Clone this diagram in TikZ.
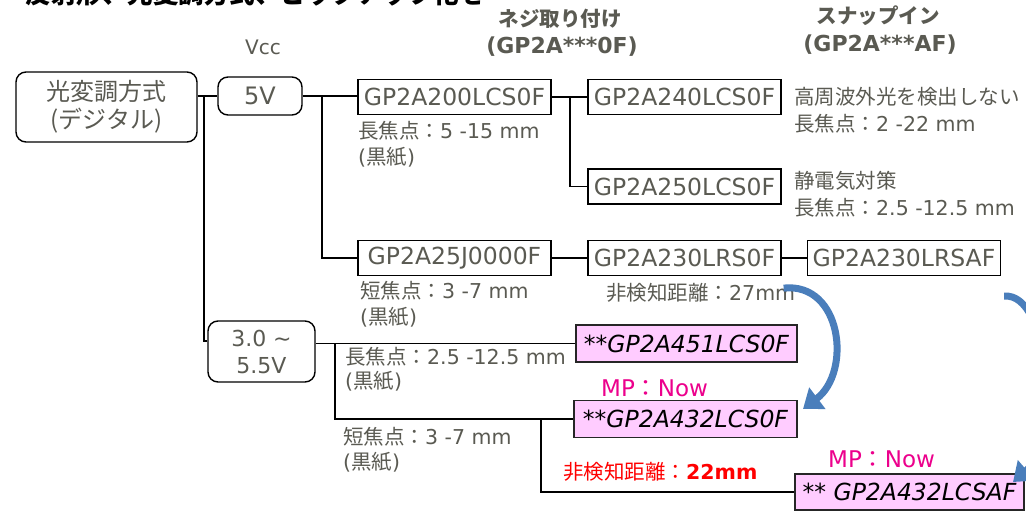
\documentclass[tikz,border=0pt]{standalone}
\usepackage{fontspec}
\setmainfont{DejaVu Sans}
\newfontfamily\jpf{Noto Sans CJK JP}
\usetikzlibrary{arrows.meta}
\definecolor{txtgrey}{RGB}{90,90,82}
\definecolor{pinkfill}{RGB}{255,204,255}
\definecolor{arrowblue}{RGB}{74,126,187}
\newcommand{\jp}[1]{{\jpf #1}}
\tikzset{
  sq/.style={draw=black, line width=1.2pt, fill=white, minimum width=193pt, minimum height=35pt, inner sep=0pt, text=txtgrey, font=\fontsize{23.5}{26}\selectfont},
  rb/.style={draw=black, line width=1.4pt, rounded corners=10pt, text=txtgrey, align=center, inner sep=0pt},
  pk/.style={draw=black!85, line width=1.2pt, fill=pinkfill, minimum height=37pt, inner sep=0pt, text=black, font=\itshape\fontsize{23.5}{26}\selectfont},
  lbl/.style={anchor=west, inner sep=0pt, text=txtgrey, font=\fontsize{20.5}{24}\selectfont},
  hdr/.style={inner sep=0pt, text=txtgrey, font=\bfseries\fontsize{22}{24}\selectfont},
  hdrjp/.style={inner sep=0pt, text=txtgrey, font=\jpf\bfseries\fontsize{20.5}{22}\selectfont},
  conn/.style={line width=1.6pt, draw=black},
  bigarrow/.style={draw=arrowblue, line width=7pt, -{Triangle[width=26pt,length=18pt]}},
}
\begin{document}
\begin{tikzpicture}[x=1pt,y=-1pt]
\useasboundingbox (0,0) rectangle (1026,512);
% clipped title
\node[anchor=south west, inner sep=0pt, font=\jpf\bfseries\fontsize{25.5}{28}\selectfont] (title) at (0,6) {－反射形、光変調方式、ピックアップ化を};
% headers
\node[inner sep=0pt, text=txtgrey, font=\fontsize{20}{22}\selectfont] (vcc) at (263,47) {Vcc};
\node[hdrjp] (h1a) at (560,19) {ネジ取り付け};
\node[hdr] (h1b) at (562,47) {(GP2A***0F)};
\node[hdrjp] (h2a) at (878,16) {スナップイン};
\node[hdr] (h2b) at (880,45) {(GP2A***AF)};
% rounded boxes
\node[rb, minimum width=181pt, minimum height=70pt, font=\jpf\fontsize{24}{28}\selectfont] (mod) at (106.5,107) {光変調方式\\(デジタル)};
\node[rb, minimum width=84pt, minimum height=38pt, font=\fontsize{24}{28}\selectfont] (v5) at (260,96) {5V};
\node[rb, minimum width=107pt, minimum height=61pt, font=\fontsize{22}{27}\selectfont] (v35) at (261.5,351.5) {3.0 \textasciitilde\\5.5V};
% square boxes
\node[sq] (g200) at (454.5,97) {GP2A200LCS0F};
\node[sq] (g240) at (684.5,97) {GP2A240LCS0F};
\node[sq] (g250) at (684.5,186.5) {GP2A250LCS0F};
\node[sq] (g25j) at (454.5,258) {GP2A25J0000F};
\node[sq] (g230) at (684.5,258) {GP2A230LRS0F};
\node[sq] (g230af) at (904,258) {GP2A230LRSAF};
% pink boxes
\node[pk, minimum width=221pt] (p451) at (686.5,343.5) {**GP2A451LCS0F};
\node[pk, minimum width=223pt] (p432) at (685.5,419) {**GP2A432LCS0F};
\node[pk, minimum width=229pt, minimum height=36pt] (p432af) at (909.5,492) {** GP2A432LCSAF};
% labels
\node[lbl] (l1) at (358,131) {\jp{長焦点：}5 -15 mm};
\node[lbl] (l2) at (358,157) {(\jp{黒紙})};
\node[lbl] (l3) at (794,97) {\jp{高周波外光を検出しない}};
\node[lbl] (l4) at (794,124) {\jp{長焦点：}2 -22 mm};
\node[lbl] (l5) at (794,181) {\jp{静電気対策}};
\node[lbl] (l6) at (794,208) {\jp{長焦点：}2.5 -12.5 mm};
\node[lbl] (l7) at (360,291) {\jp{短焦点：}3 -7 mm};
\node[lbl] (l8) at (360,317) {(\jp{黒紙})};
\node[lbl] (l9) at (606,293) {\jp{非検知距離：}27mm};
\node[lbl] (l10) at (345,357) {\jp{長焦点：}2.5 -12.5 mm};
\node[lbl] (l11) at (345,381) {(\jp{黒紙})};
\node[lbl] (l12) at (343,437) {\jp{短焦点：}3 -7 mm};
\node[lbl] (l13) at (343,462) {(\jp{黒紙})};
\node[lbl, text=red] (l14) at (563,472) {\jp{非検知距離：}\textbf{22mm}};
\node[lbl, text=magenta, font=\fontsize{23}{26}\selectfont] (mp1) at (601,388) {MP\jp{：}Now};
\node[lbl, text=magenta, font=\fontsize{23}{26}\selectfont] (mp2) at (828,459) {MP\jp{：}Now};
% junction coordinates
\coordinate (j1) at (204,96);
\coordinate (j1b) at (204,341);
\coordinate (j2) at (322,96);
\coordinate (j3) at (570,97);
\coordinate (j4) at (335,343.5);
\coordinate (j5) at (541,419);
\coordinate (t1) at (803,409);
\coordinate (t2) at (1013,482);
% connectors
\draw[conn] (mod.east |- v5.west) -- (v5.west);
\draw[conn] (j1) -- (j1b) -- (j1b -| v35.west);
\draw[conn] (v5.east) -- (v5.east -| g200.west);
\draw[conn] (j2) |- (g25j.west);
\draw[conn] (g200.east) -- (g240.west);
\draw[conn] (j3) |- (g250.west);
\draw[conn] (g25j.east) -- (g230.west);
\draw[conn] (g230.east) -- (g230af.west);
\draw[conn] (v35.east |- p451.west) -- (p451.west);
\draw[conn] (j4) |- (p432.west);
\draw[conn] (j5) |- (p432af.west);
% curved arrows
\draw[bigarrow] (g230.south east) ++(2,12) .. controls (842,282) and (852,372) .. (t1);
\draw[bigarrow] (g230af.south east) ++(3,20) .. controls (1050,292) and (1062,440) .. (t2);
\end{tikzpicture}
\end{document}
